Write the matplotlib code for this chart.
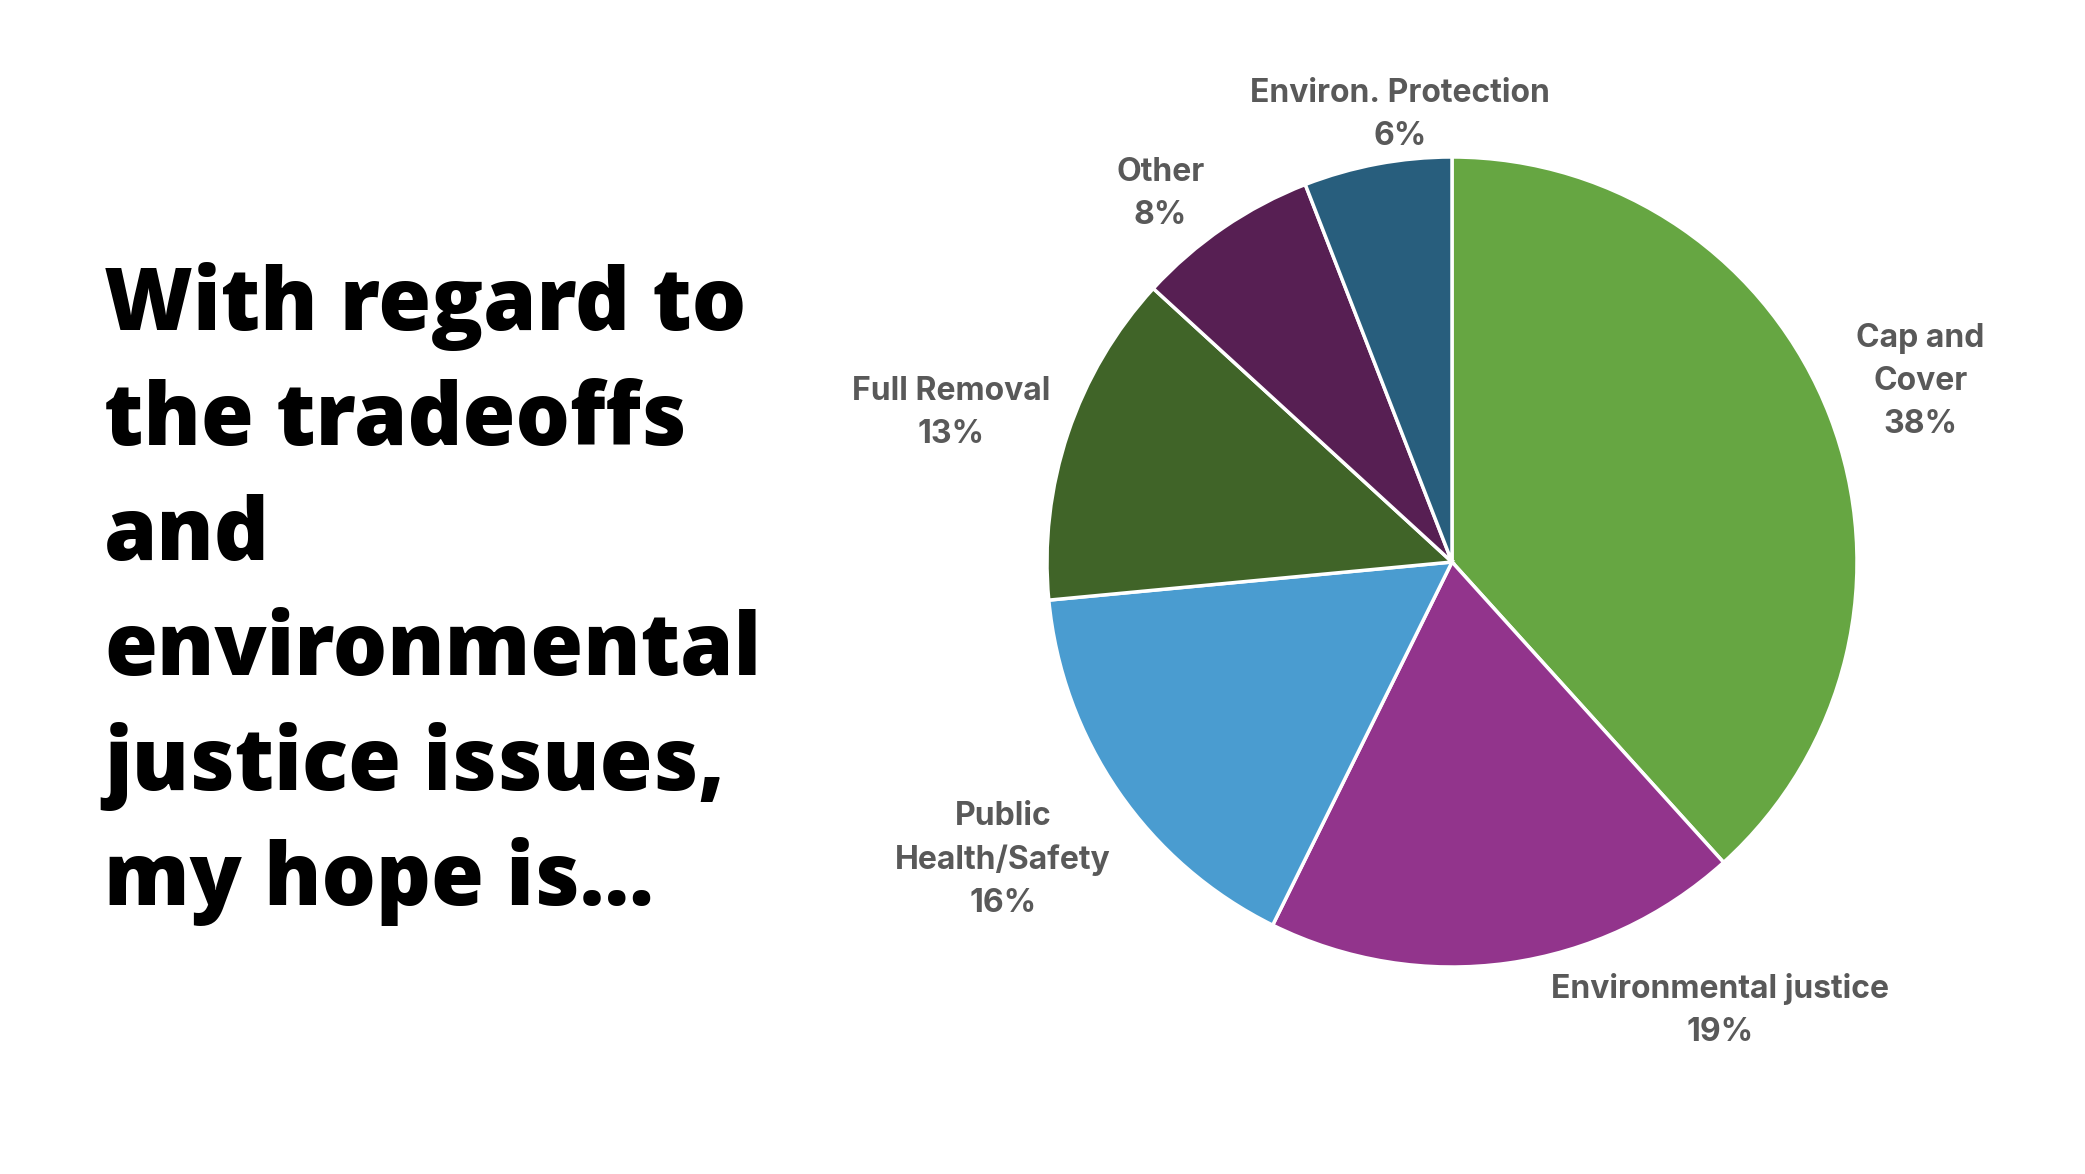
import numpy as np
import matplotlib
matplotlib.use("Agg")
import matplotlib.pyplot as plt

# slice data, clockwise from 12 o'clock
categories = ["Cap and\nCover", "Environmental justice", "Public\nHealth/Safety",
              "Full Removal", "Other", "Environ. Protection"]
shares = [38.3, 19.0, 16.2, 13.3, 7.3, 5.9]
pct_labels = ["38%", "19%", "16%", "13%", "8%", "6%"]
colors = ["#66A642", "#92348C", "#4A9CD0", "#406428", "#571F53", "#285E7D"]

title_lines = ["With regard to", "the tradeoffs", "and", "environmental",
               "justice issues,", "my hope is..."]

W, H = 2085, 1174
fig = plt.figure(figsize=(W / 100, H / 100), dpi=100)
ax = fig.add_axes([0, 0, 1, 1])

cx, cy, R = 1452, H - 562, 405
wedges, _ = ax.pie(shares, colors=colors, startangle=90, counterclock=False,
                   center=(cx, cy), radius=R,
                   wedgeprops=dict(edgecolor="white", linewidth=2.5))
ax.set_xlim(0, W)
ax.set_ylim(0, H)
ax.set_aspect("equal")
ax.axis("off")

# label distance (in radii) and angle nudge per slice
lab_dist = [1.24, 1.29, 1.33, 1.29, 1.16, 1.11]
lab_nudge = [0, 23, -1, 2, 4, -4]
for w, cat, pct, d, nd in zip(wedges, categories, pct_labels, lab_dist, lab_nudge):
    ang = np.deg2rad((w.theta1 + w.theta2) / 2 + nd)
    x = cx + d * R * np.cos(ang)
    y = cy + d * R * np.sin(ang)
    ax.text(x, y, cat + "\n" + pct, ha="center", va="center", fontsize=23,
            fontweight="bold", color="#595959", family="Inter", linespacing=1.5)

for i, line in enumerate(title_lines):
    fig.text(104 / W, 1 - (330 + i * 115) / H, line, ha="left", va="baseline",
             fontsize=61.7, fontweight=800, family="Open Sans", color="black")

fig.savefig("out.png", dpi=100, facecolor="white")
